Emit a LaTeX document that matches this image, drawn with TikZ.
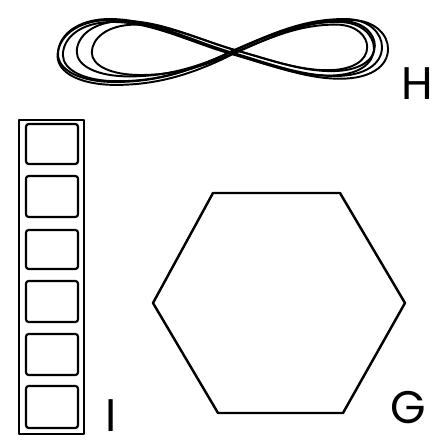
\documentclass[tikz,border=0pt]{standalone}
\usepackage{fontspec}
\setmainfont{Poppins}
\usepackage{tikz}

\begin{document}
\begin{tikzpicture}[
    x=0.02cm,
    y=-0.02cm,
    outline/.style={draw=black,line width=1.4pt,line join=round},
    strand/.style={draw=black,line width=1.1pt,line join=round},
    cell/.style={draw=black,line width=1.2pt,rounded corners=1.5pt},
    letter/.style={font=\fontsize{26}{26}\selectfont,inner sep=0pt}
]
\useasboundingbox (0,0) rectangle (434,444);

% Figure eight, traced several times.
\foreach \dx/\dy/\sx/\sy in {0/0/1/1, 5/-2/0.92/0.88, -2/1/0.96/0.94, 3/2/1.02/1.03, 8/-1/0.85/0.8} {
    \begin{scope}[shift={(230+\dx,52+\dy)},xscale=\sx,yscale=\sy]
        \draw[strand] (0,0) .. controls (45,-20) and (75,-33) .. (115,-33)
            .. controls (140,-33) and (152,-18) .. (152,-5)
            .. controls (152,12) and (135,24) .. (105,24)
            .. controls (70,24) and (35,10) .. (0,0)
            .. controls (-40,-12) and (-80,-33) .. (-120,-33)
            .. controls (-155,-33) and (-172,-15) .. (-172,2)
            .. controls (-172,18) and (-150,30) .. (-115,30)
            .. controls (-75,30) and (-40,20) .. (0,0);
    \end{scope}
}
\node[letter] (labelH) at (417,84) {H};

% Ladder of six cells.
\draw[outline] (19,120) rectangle (84,434);
\foreach \top/\bot in {124/164, 176/217, 230/269, 281/322, 334/375, 386/428} {
    \draw[cell] (26,\top) rectangle (78,\bot);
}
\node[letter] (labelI) at (111,416) {I};

% Hexagon.
\draw[outline] (213,193) -- (340,193) -- (405,303) -- (343,413)
    -- (218,413) -- (153,303) -- cycle;
\node[letter] (labelG) at (408,408) {G};

\end{tikzpicture}
\end{document}
